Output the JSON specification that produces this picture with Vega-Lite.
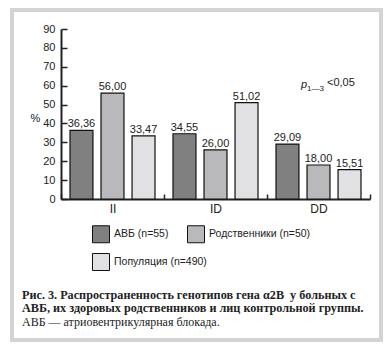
{
  "$schema": "https://vega.github.io/schema/vega-lite/v6.json",
  "width": 369,
  "height": 330,
  "autosize": {"type": "none"},
  "padding": {"left": 12, "top": 10, "right": 9, "bottom": 12},
  "background": "white",
  "config": {
    "view": {"stroke": "#d4d4d4", "strokeWidth": 4},
    "locale": {"number": {"decimal": ",", "thousands": " ", "grouping": [3], "currency": ["", ""]}},
    "font": "Liberation Sans"
  },
  "title": {
    "text": ["Рис. 3. Распространенность генотипов гена α2B\u00a0\u00a0у больных с", "АВБ, их здоровых родственников и лиц контрольной группы."],
    "subtitle": "АВБ — атриовентрикулярная блокада.",
    "orient": "bottom",
    "anchor": "start",
    "frame": "group",
    "offset": -51,
    "dx": 10,
    "font": "Liberation Serif",
    "fontSize": 12.2,
    "fontWeight": "bold",
    "lineHeight": 12.5,
    "color": "#222222",
    "baseline": "top",
    "subtitleFont": "Liberation Serif",
    "subtitleFontSize": 12,
    "subtitleFontWeight": "normal",
    "subtitleColor": "#222222",
    "subtitlePadding": 3
  },
  "datasets": {
    "bars": [
      {"genotype": "II", "group": "АВБ (n=55)", "value": 36.36},
      {"genotype": "II", "group": "Родственники (n=50)", "value": 56.00},
      {"genotype": "II", "group": "Популяция (n=490)", "value": 33.47},
      {"genotype": "ID", "group": "АВБ (n=55)", "value": 34.55},
      {"genotype": "ID", "group": "Родственники (n=50)", "value": 26.00},
      {"genotype": "ID", "group": "Популяция (n=490)", "value": 51.02},
      {"genotype": "DD", "group": "АВБ (n=55)", "value": 29.09},
      {"genotype": "DD", "group": "Родственники (n=50)", "value": 18.00},
      {"genotype": "DD", "group": "Популяция (n=490)", "value": 15.51}
    ],
    "note": [{"genotype": "DD", "value": 61}]
  },
  "encoding": {
    "x": {
      "field": "genotype", "type": "nominal", "sort": ["II", "ID", "DD"],
      "scale": {"domain": ["II", "ID", "DD"], "range": [49, 358], "paddingInner": 0, "paddingOuter": 0},
      "axis": {
        "title": null, "labelAngle": 0, "offset": -141, "tickBand": "extent",
        "tickSize": -5, "labelPadding": 9, "domainWidth": 2, "tickWidth": 1.5,
        "domainColor": "#222222", "tickColor": "#222222",
        "labelFontSize": 12, "labelColor": "#222222"
      }
    },
    "y": {
      "field": "value", "type": "quantitative",
      "scale": {"domain": [0, 90], "range": [189, 19], "nice": false},
      "axis": {
        "values": [0, 10, 20, 30, 40, 50, 60, 70, 80, 90],
        "labelOverlap": false,
        "grid": false, "offset": -49, "tickSize": -6, "labelPadding": 12,
        "domainWidth": 2, "tickWidth": 1.5, "domainColor": "#222222", "tickColor": "#222222",
        "labelFontSize": 11, "labelColor": "#222222",
        "title": "%", "titleAngle": 0, "titleX": -26, "titleY": 108,
        "titleAlign": "center", "titleBaseline": "middle",
        "titleFontWeight": "normal", "titleFontSize": 11, "titleColor": "#222222"
      }
    }
  },
  "layer": [
    {
      "data": {"name": "bars"},
      "mark": {"type": "bar", "strokeWidth": 1.2},
      "encoding": {
        "xOffset": {
          "field": "group", "type": "nominal",
          "sort": ["АВБ (n=55)", "Родственники (n=50)", "Популяция (n=490)"],
          "scale": {"paddingInner": 0.26, "paddingOuter": 0.29}
        },
        "fill": {
          "field": "group", "type": "nominal",
          "sort": ["АВБ (n=55)", "Родственники (n=50)", "Популяция (n=490)"],
          "scale": {"domain": ["АВБ (n=55)", "Родственники (n=50)", "Популяция (n=490)"], "range": ["#808080", "#b9b9bb", "#e1e1e3"]},
          "legend": {
            "orient": "none", "legendX": 80, "legendY": 215, "title": null,
            "values": ["АВБ (n=55)", "Родственники (n=50)"],
            "direction": "horizontal",
            "symbolType": "square", "symbolSize": 289, "symbolStrokeColor": "#111111",
            "symbolStrokeWidth": 1, "symbolOpacity": 1,
            "labelFontSize": 10.5, "labelOffset": 4, "labelColor": "#222222",
            "columnPadding": 16, "padding": 0
          }
        },
        "stroke": {
          "field": "group", "type": "nominal",
          "scale": {"domain": ["Популяция (n=490)", "АВБ (n=55)", "Родственники (n=50)"], "range": ["#111111", "#111111", "#111111"]},
          "legend": {
            "orient": "none", "legendX": 80, "legendY": 243, "title": null,
            "values": ["Популяция (n=490)"],
            "direction": "horizontal",
            "symbolType": "square", "symbolSize": 289, "symbolFillColor": "#e1e1e3",
            "symbolStrokeWidth": 1, "symbolOpacity": 1,
            "labelFontSize": 10.5, "labelOffset": 4, "labelColor": "#222222",
            "padding": 0
          }
        }
      }
    },
    {
      "data": {"name": "bars"},
      "mark": {"type": "text", "baseline": "alphabetic", "dy": -3, "fontSize": 11, "color": "#222222"},
      "encoding": {
        "xOffset": {"field": "group", "type": "nominal", "sort": ["АВБ (n=55)", "Родственники (n=50)", "Популяция (n=490)"]},
        "text": {"field": "value", "type": "quantitative", "format": ".2f"}
      }
    },
    {
      "data": {"name": "note"},
      "mark": {"type": "text", "align": "left", "baseline": "middle", "dx": -17.5, "dy": 1, "fontSize": 11, "fontStyle": "italic", "color": "#222222"},
      "encoding": {"text": {"value": "p"}}
    },
    {
      "data": {"name": "note"},
      "mark": {"type": "text", "align": "left", "baseline": "middle", "dx": -11.5, "dy": 5, "fontSize": 8, "color": "#222222"},
      "encoding": {"text": {"value": "1—3"}}
    },
    {
      "data": {"name": "note"},
      "mark": {"type": "text", "align": "left", "baseline": "middle", "dx": 8.5, "dy": -1, "fontSize": 11, "color": "#222222"},
      "encoding": {"text": {"value": "<0,05"}}
    }
  ]
}
